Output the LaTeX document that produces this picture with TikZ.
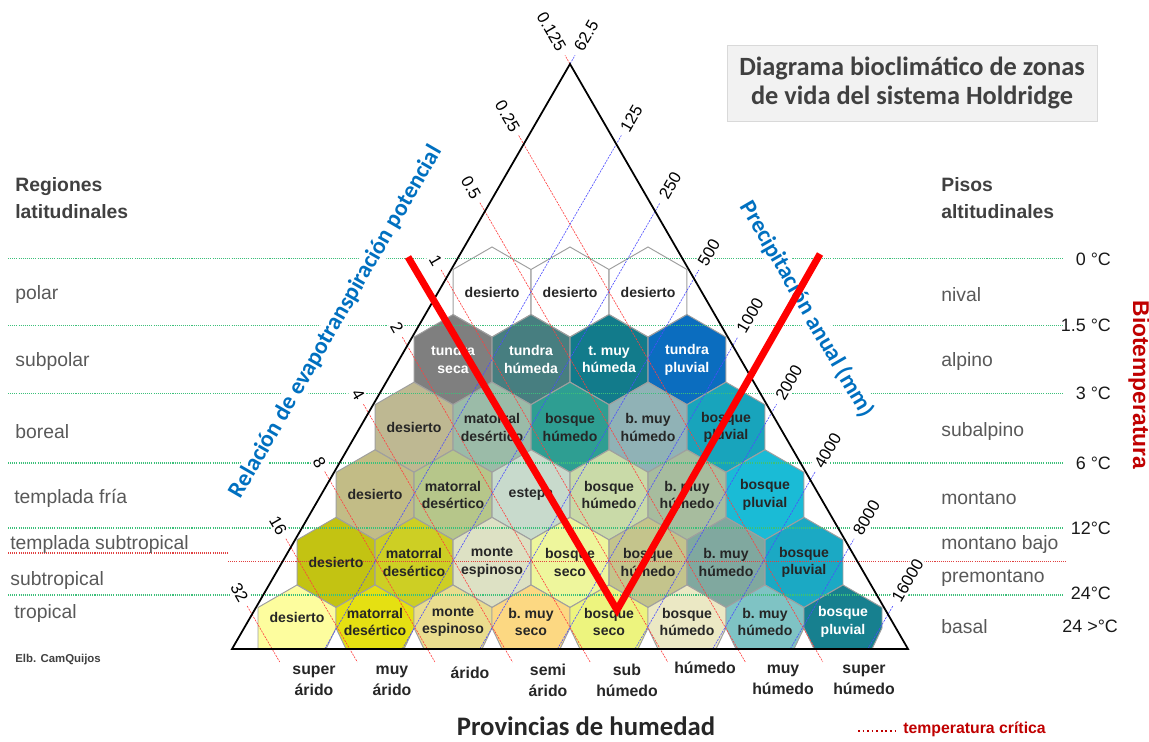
\documentclass[tikz,border=0pt]{standalone}
\usepackage{fontspec}
\setmainfont{Liberation Sans}
\newfontfamily\calibri{Carlito}
\usetikzlibrary{backgrounds, calc}
\pgfdeclarelayer{hexes}
\pgfdeclarelayer{guides}
\pgfsetlayers{hexes,guides,main}

% hexagon fills, row by row from the top
\definecolor{r2a}{HTML}{7F7F7F}
\definecolor{r2b}{HTML}{477E80}
\definecolor{r2c}{HTML}{127B8B}
\definecolor{r2d}{HTML}{0B6DBF}
\definecolor{r3a}{HTML}{BEB892}
\definecolor{r3b}{HTML}{9BBBA8}
\definecolor{r3c}{HTML}{2E9E92}
\definecolor{r3d}{HTML}{90B2B6}
\definecolor{r3e}{HTML}{18A4BC}
\definecolor{r4a}{HTML}{C2BC86}
\definecolor{r4b}{HTML}{B6C68A}
\definecolor{r4c}{HTML}{C8DACC}
\definecolor{r4d}{HTML}{C9DAA8}
\definecolor{r4e}{HTML}{A7BC9E}
\definecolor{r4f}{HTML}{1ABBD6}
\definecolor{r5a}{HTML}{C3C312}
\definecolor{r5b}{HTML}{CDCF24}
\definecolor{r5c}{HTML}{DDE1C4}
\definecolor{r5d}{HTML}{EEF69C}
\definecolor{r5e}{HTML}{C4C48C}
\definecolor{r5f}{HTML}{80A89F}
\definecolor{r5g}{HTML}{1BA9C4}
\definecolor{r6a}{HTML}{FDFD9E}
\definecolor{r6b}{HTML}{E5E012}
\definecolor{r6c}{HTML}{EADD8E}
\definecolor{r6d}{HTML}{FCD882}
\definecolor{r6e}{HTML}{EDF47E}
\definecolor{r6f}{HTML}{EBE8C4}
\definecolor{r6g}{HTML}{7FC3C4}
\definecolor{r6h}{HTML}{17808F}
% lines and labels
\definecolor{tempgreen}{HTML}{3CC07A}
\definecolor{critred}{HTML}{E04040}
\definecolor{axisblue}{HTML}{0070C0}
\definecolor{biored}{HTML}{C00000}
\definecolor{labelgray}{HTML}{595959}

\tikzset{
  hexcell/.style={draw=gray!75, line width=0.55pt},
  hexagon/.style={insert path={+(30:45) -- +(90:45) -- +(150:45) -- +(210:45) -- +(270:45) -- +(330:45) -- cycle}},
  hexlabel/.style={align=center, inner sep=0pt, font=\bfseries\fontsize{8}{10}\selectfont},
  templine/.style={tempgreen, line width=0.6pt, dash pattern=on 0.6pt off 0.6pt},
  critline/.style={critred, line width=0.6pt, dash pattern=on 0.6pt off 0.6pt},
  petline/.style={red!75, line width=0.35pt, dash pattern=on 1.2pt off 0.6pt},
  precline/.style={blue!70, line width=0.35pt, dash pattern=on 1.2pt off 0.6pt},
  ticklabel/.style={fill=white, inner sep=1pt, font=\fontsize{9.5}{10}\selectfont},
  axislabel/.style={fill=white, inner sep=1pt, text=axisblue, font=\calibri\bfseries\fontsize{13.4}{15}\selectfont},
  zonelabel/.style={anchor=west, inner sep=0pt, text=labelgray, font=\fontsize{11}{13}\selectfont},
  headlabel/.style={anchor=west, inner sep=0pt, align=left, text=black!75, font=\bfseries\fontsize{11}{15.3}\selectfont},
  templabel/.style={anchor=east, inner sep=1pt, text=black!90, font=\fontsize{10.2}{12}\selectfont},
  humlabel/.style={align=center, inner sep=0pt, text=black!85, font=\bfseries\fontsize{9}{12}\selectfont},
  vline/.style={red, line width=1.4mm},
}

\begin{document}
\begin{tikzpicture}[x=0.2mm, y=-0.2mm]
  \useasboundingbox (0,0) rectangle (1149,742);
  \coordinate (apex) at (570,64);
  \coordinate (bl) at (232,649);
  \coordinate (br) at (908,649);

  % life zones, rows 1 to 5
  \foreach \r/\i/\fillc/\lab/\txtc in {
    1/0/white/desierto/black!85, 1/1/white/desierto/black!85, 1/2/white/desierto/black!85,
    2/0/r2a/tundra\\seca/white, 2/1/r2b/tundra\\húmeda/white, 2/2/r2c/t.~muy\\húmeda/white, 2/3/r2d/tundra\\pluvial/white,
    3/0/r3a/desierto/black!85, 3/1/r3b/matorral\\desértico/black!85, 3/2/r3c/bosque\\húmedo/black!85, 3/3/r3d/b.~muy\\húmedo/black!85, 3/4/r3e/bosque\\pluvial/black!85,
    4/0/r4a/desierto/black!85, 4/1/r4b/matorral\\desértico/black!85, 4/2/r4c/estepa/black!85, 4/3/r4d/bosque\\húmedo/black!85, 4/4/r4e/b.~muy\\húmedo/black!85, 4/5/r4f/bosque\\pluvial/black!85,
    5/0/r5a/desierto/black!85, 5/1/r5b/matorral\\desértico/black!85, 5/2/r5c/monte\\espinoso/black!85, 5/3/r5d/bosque\\seco/black!85, 5/4/r5e/bosque\\húmedo/black!85, 5/5/r5f/b.~muy\\húmedo/black!85, 5/6/r5g/bosque\\pluvial/black!85}{
    \begin{pgfonlayer}{hexes}
      \filldraw[hexcell, fill=\fillc] ({570+78*(\i-(\r+1)/2)},{292+67.6*(\r-1)}) [hexagon];
    \end{pgfonlayer}
    \node[hexlabel, text=\txtc] (h\r\i) at ({570+78*(\i-(\r+1)/2)},{292+67.6*(\r-1)}) {\lab};
  }
  % bottom row, cut by the base
  \foreach \fillc/\lab/\txtc/\ly [count=\i from 0] in {r6a/desierto/black!85/617, r6b/matorral\\desértico/black!85/622, r6c/monte\\espinoso/black!85/622, r6d/b.~muy\\seco/black!85/622, r6e/bosque\\seco/black!85/622, r6f/bosque\\húmedo/black!85/622, r6g/b.~muy\\húmedo/black!85/622, r6h/bosque\\pluvial/white/622}{
    \pgfmathsetmacro\hx{297+78*\i}
    \pgfmathsetmacro\lx{\i==0 ? 39 : 29}
    \begin{pgfonlayer}{hexes}
      \filldraw[hexcell, fill=\fillc] (\hx,585) -- (\hx+39,607.5) -- (\hx+39,628) -- (\hx+29,649) -- (\hx-\lx,649) -- (\hx-39,628) -- (\hx-39,607.5) -- cycle;
    \end{pgfonlayer}
    \node[hexlabel, text=\txtc] (h6\i) at (\hx,\ly) {\lab};
  }

  % temperature belts and guide lines
  \begin{pgfonlayer}{guides}
    \foreach \ty in {258.5,325.7,393.5,463,528,595}
      \draw[templine] (8,\ty) -- (1064,\ty);
    \draw[critline] (8,553) -- (228,553);
    \draw[critline] (228,561.7) -- (1066,561.7);
    \foreach \k in {1,...,8}{
      \pgfmathsetmacro\sd{15+77.6*\k}
      \draw[petline] ({565-0.5*\sd},{55.34+0.866*\sd}) -- ({915.5-\sd},662);
      \draw[precline] ({232+\sd},649) -- ({575+0.5*\sd},{55.34+0.866*\sd});
    }
    \draw[petline] (apex) -- ++(-5,-8.66);
    \draw[precline] (apex) -- ++(5,-8.66);
  \end{pgfonlayer}
  \draw[line width=1pt] (bl) -- (br) -- (apex) -- cycle;

  % scales on the two sides
  \foreach \lab [count=\k from 0] in {0.125,0.25,0.5,1,2,4,8,16,32}{
    \pgfmathsetmacro\sd{\k==0 ? 0 : 15+77.6*\k}
    \node[ticklabel, rotate=-60, anchor=east] (pet\k) at ({563-0.5*\sd},{51.9+0.866*\sd}) {\lab};
  }
  \foreach \lab [count=\k from 0] in {62.5,125,250,500,1000,2000,4000,8000,16000}{
    \pgfmathsetmacro\sd{\k==0 ? 0 : 15+77.6*\k}
    \node[ticklabel, rotate=60, anchor=west] (pre\k) at ({577+0.5*\sd},{51.9+0.866*\sd}) {\lab};
  }
  \node[axislabel, rotate=60] (petaxis) at (336,322) {Relación de evapotranspiración potencial};
  \node[axislabel, rotate=-60] (preaxis) at (807,309) {Precipitación anual (mm)};

  % title
  \node[draw=gray!30, fill=gray!10, minimum width=74mm, minimum height=15.2mm, align=center, text=black!75,
        font=\calibri\bfseries\fontsize{15}{17}\selectfont] (title) at (912,83) {Diagrama bioclimático de zonas\\de vida del sistema Holdridge};

  % latitude regions
  \node[headlabel] (regiones) at (15,198.5) {Regiones\\latitudinales};
  \foreach \zx/\zy/\lab [count=\n] in {15/295/polar, 15/361.7/subpolar, 15/431.7/boreal, 14/498/templada fría,
      10/545/templada subtropical, 10/580.7/subtropical, 14/613.3/tropical}
    \node[zonelabel] (lat\n) at (\zx,\zy) {\lab};
  \node[anchor=west, inner sep=0pt, text=black!75, font=\bfseries\fontsize{6.5}{8}\selectfont] (credit) at (15,660) {Elb. CamQuijos};

  % altitude belts
  \node[headlabel] (pisos) at (941,198.5) {Pisos\\altitudinales};
  \foreach \zy/\lab [count=\n] in {295/nival, 361.7/alpino, 431.7/subalpino, 498/montano, 545/montano bajo, 578/premontano, 626.7/basal}
    \node[zonelabel] (alt\n) at (941,\zy) {\lab};
  \foreach \tx/\ty/\lab [count=\n] in {1113/259/0 °C, 1113/325.7/1.5 °C, 1113/393/3 °C, 1113/463/6 °C, 1113/528/12°C, 1113/593/24°C, 1120/626.7/24 >°C}
    \node[templabel] (temp\n) at (\tx,\ty) {\lab};
  \node[rotate=-90, text=biored, font=\bfseries\fontsize{13}{14}\selectfont] (biotemp) at (1139,385) {Biotemperatura};

  % humidity provinces
  \foreach \hx/\hy/\lab [count=\n] in {314/681/super\\árido, 392/681/muy\\árido, 470/673/árido, 548/680/semi\\árido,
      627/680/sub\\húmedo, 705/668/húmedo, 783/680/muy\\húmedo, 864/680/super\\húmedo}
    \node[humlabel] (hum\n) at (\hx,\hy) {\lab};
  \node[text=black!85, inner sep=0pt, font=\calibri\bfseries\fontsize{15.2}{17}\selectfont] (provincias) at (586,726) {Provincias de humedad};

  % legend
  \coordinate (lega) at (858,731);
  \coordinate (legb) at (895,731);
  \draw[biored, line width=1.1pt, dash pattern=on 1pt off 1.6pt] (lega) -- (legb);
  \node[anchor=west, inner sep=0pt, text=biored, font=\bfseries\fontsize{9}{10}\selectfont] (legend) at (903,729) {temperatura crítica};

  % red V
  \coordinate (vl) at (408,257);
  \coordinate (vb) at (617,610);
  \coordinate (vr) at (820,254);
  \draw[vline] (vl) -- (vb) -- (vr);
\end{tikzpicture}
\end{document}
